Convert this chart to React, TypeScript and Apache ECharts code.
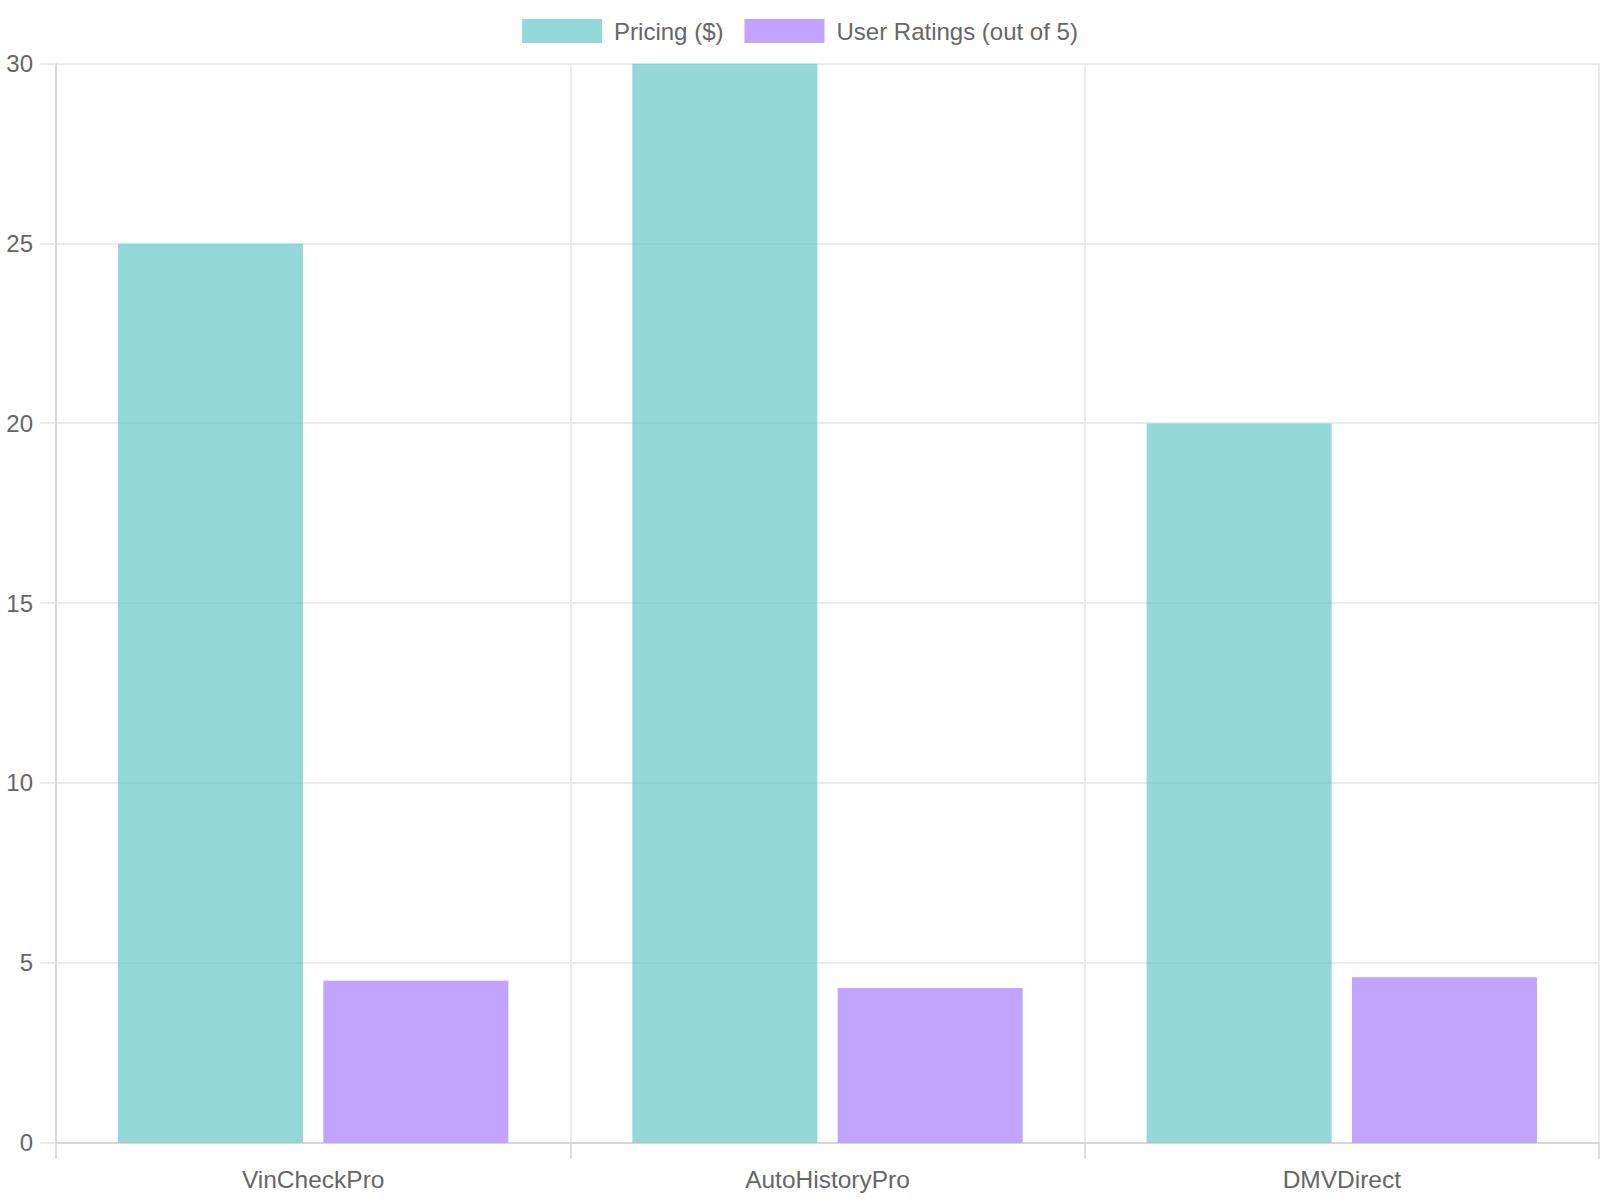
import React, { useEffect, useRef } from "react";
import * as echarts from "echarts";

// Services compared
const categories = ["VinCheckPro", "AutoHistoryPro", "DMVDirect"];
// Price per report in dollars
const pricing = [24.99, 29.99, 19.99];
// Average user rating out of 5
const ratings = [4.5, 4.3, 4.6];
// Value axis ticks
const yMin = 0;
const yMax = 30;
const yStep = 5;

const FONT = "'Liberation Sans', Arial, Helvetica, sans-serif";
const TEXT = "#666666";
const GRID = "#e5e5e5";
const AXIS = "#d2d2d2";

export default function App() {
  const ref = useRef<HTMLDivElement>(null);

  useEffect(() => {
    if (!ref.current) return;
    const chart = echarts.init(ref.current, undefined, { renderer: "svg" });
    chart.setOption({
      animation: false,
      backgroundColor: "#ffffff",
      textStyle: { fontFamily: FONT },
      legend: {
        top: 14,
        left: "center",
        itemWidth: 80,
        itemHeight: 24,
        itemGap: 21,
        icon: "rect",
        textStyle: {
          fontFamily: FONT,
          fontSize: 24,
          color: TEXT,
          padding: [0, 0, 0, 7],
        },
        data: ["Pricing ($)", "User Ratings (out of 5)"],
      },
      grid: {
        left: 56,
        right: 1,
        top: 63.5,
        bottom: 57.3,
        containLabel: false,
      },
      xAxis: {
        type: "category",
        data: categories,
        boundaryGap: true,
        axisLine: { show: true, lineStyle: { color: AXIS, width: 1.5 } },
        axisTick: { show: true, length: 16, lineStyle: { color: AXIS, width: 1.5 } },
        axisLabel: {
          fontFamily: FONT,
          fontSize: 24.5,
          color: TEXT,
          margin: 24,
        },
        splitLine: { show: true, lineStyle: { color: GRID, width: 1.5 } },
      },
      yAxis: {
        type: "value",
        min: yMin,
        max: yMax,
        interval: yStep,
        axisLine: { show: true, lineStyle: { color: AXIS, width: 1.5 } },
        axisTick: { show: true, length: 16, lineStyle: { color: GRID, width: 1.5 } },
        axisLabel: {
          fontFamily: FONT,
          fontSize: 24,
          color: TEXT,
          margin: 23,
        },
        splitLine: { show: true, lineStyle: { color: GRID, width: 1.5 } },
      },
      series: [
        {
          name: "Pricing ($)",
          type: "bar",
          data: pricing,
          barWidth: 185,
          barGap: "11%",
          itemStyle: { color: "rgba(75, 192, 192, 0.6)" },
        },
        {
          name: "User Ratings (out of 5)",
          type: "bar",
          data: ratings,
          barWidth: 185,
          barGap: "11%",
          itemStyle: { color: "rgba(153, 102, 255, 0.6)" },
        },
      ],
    });
    return () => chart.dispose();
  }, []);

  return (
    <div
      ref={ref}
      style={{
        position: "fixed",
        left: 0,
        top: 0,
        width: 1600,
        height: 1200,
        background: "#ffffff",
      }}
    />
  );
}
